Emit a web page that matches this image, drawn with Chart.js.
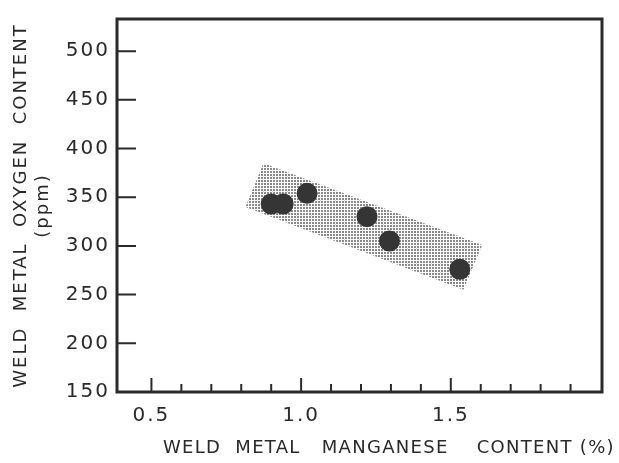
<!DOCTYPE html>
<html>
<head>
<meta charset="utf-8">
<script src="https://cdn.jsdelivr.net/npm/chart.js@4.4.1/dist/chart.umd.min.js"></script>
<style>
  html, body { margin: 0; padding: 0; background: #fff; }
  #wrap { width: 619px; height: 463px; }
</style>
</head>
<body>
<div id="wrap"><canvas id="chart"></canvas></div>
<script>
// --- data ---
const manganese = [0.90, 0.94, 1.02, 1.22, 1.295, 1.53];
const oxygen    = [343, 343, 354, 330, 305, 276];

// scatter band (corners, clockwise)
const bandX = [0.874, 1.605, 1.542, 0.814, 0.874];
const bandY = [385, 301, 255, 340, 385];

const xLabelValues = [0.5, 1.0, 1.5];
const xTickLabels  = ['0.5', '1.0', '1.5'];

const xTitle = 'WELD  METAL   MANGANESE    CONTENT (%)';
const yTitle = ['WELD  METAL  OXYGEN  CONTENT', '(ppm)'];

const INK = '#2a2a2a';
const FONT = "'DejaVu Sans', sans-serif";

// stipple pattern for the band
function stipple() {
    const c = document.createElement('canvas');
    c.width = 3; c.height = 3;
    const g = c.getContext('2d');
    g.fillStyle = '#8a8a8a';
    g.fillRect(0, 0, 2, 2);
    return g.createPattern(c, 'repeat');
}

// wider lettering like the typeset original
const spacingPlugin = {
    id: 'spacing',
    beforeDraw(chart) { chart.ctx.letterSpacing = '2px'; }
};

// frame, inward tick marks, x axis title
const framePlugin = {
    id: 'frame',
    afterDatasetsDraw(chart) {
        const { ctx, chartArea: a, scales } = chart;
        ctx.save();
        ctx.strokeStyle = INK;
        ctx.lineWidth = 3;
        ctx.strokeRect(a.left, a.top, a.right - a.left, a.bottom - a.top);
        ctx.lineWidth = 2;
        ctx.beginPath();
        scales.x.ticks.forEach(t => {
            const v = Math.round(t.value * 10) / 10;
            if (v < 0.5 || v > 1.95) return;
            const px = scales.x.getPixelForValue(v);
            const major = xLabelValues.some(m => Math.abs(m - v) < 1e-6);
            ctx.moveTo(px, a.bottom);
            ctx.lineTo(px, a.bottom - (major ? 14 : 8));
        });
        scales.y.ticks.forEach(t => {
            if (t.value <= 150) return;
            const py = scales.y.getPixelForValue(t.value);
            ctx.moveTo(a.left, py);
            ctx.lineTo(a.left + 19, py);
        });
        ctx.stroke();

        ctx.letterSpacing = '1.3px';
        ctx.fillStyle = INK;
        ctx.font = '18px ' + FONT;
        ctx.textAlign = 'left';
        ctx.textBaseline = 'middle';
        ctx.fillText(xTitle, 163, 448);
        ctx.restore();
    }
};

new Chart(document.getElementById('chart').getContext('2d'), {
    type: 'scatter',
    data: {
        datasets: [{
            label: 'band',
            data: bandX.map((x, i) => ({ x: x, y: bandY[i] })),
            showLine: true,
            fill: 'shape',
            backgroundColor: stipple(),
            borderWidth: 0,
            borderColor: 'rgba(0,0,0,0)',
            pointRadius: 0,
            tension: 0,
            order: 2
        }, {
            label: 'oxygen',
            data: manganese.map((x, i) => ({ x: x, y: oxygen[i] })),
            pointRadius: 10.5,
            pointBackgroundColor: '#353535',
            pointBorderWidth: 0,
            order: 1
        }]
    },
    options: {
        responsive: true,
        maintainAspectRatio: false,
        animation: false,
        layout: { padding: { top: 10, right: 17, left: 0, bottom: 0 } },
        plugins: { legend: { display: false }, tooltip: { enabled: false } },
        scales: {
            x: {
                type: 'linear',
                min: 0.385,
                max: 2.005,
                afterFit: s => { s.height = 71; },
                grid: { display: false, drawTicks: false },
                border: { display: false },
                ticks: {
                    stepSize: 0.1,
                    includeBounds: false,
                    autoSkip: false,
                    maxRotation: 0,
                    padding: 12,
                    color: INK,
                    font: { family: FONT, size: 20 },
                    callback: v => {
                        const i = xLabelValues.findIndex(m => Math.abs(m - v) < 1e-6);
                        return i >= 0 ? xTickLabels[i] : '';
                    }
                },
                title: { display: false }
            },
            y: {
                min: 150,
                max: 533,
                afterFit: s => { s.width = 117; },
                grid: { display: false, drawTicks: false },
                border: { display: false },
                ticks: {
                    stepSize: 50,
                    includeBounds: false,
                    padding: 7,
                    color: INK,
                    font: { family: FONT, size: 20 }
                },
                title: {
                    display: true,
                    text: yTitle,
                    color: INK,
                    font: { family: FONT, size: 18 },
                    padding: { top: 11, bottom: 0 }
                }
            }
        }
    },
    plugins: [spacingPlugin, framePlugin]
});
</script>
</body>
</html>
